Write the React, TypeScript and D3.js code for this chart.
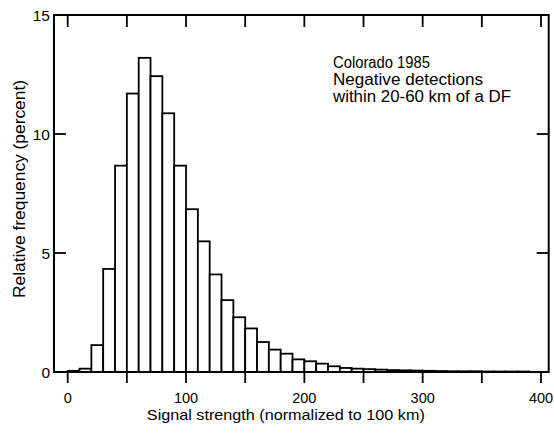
import React from "react";
import * as d3 from "d3";

const binStarts = [0,10,20,30,40,50,60,70,80,90,100,110,120,130,140,150,160,170,180,190,200,210,220,230,240,250,260,270,280,290,300,310,320,330,340,350,360,370,380];
const frequencies = [0.05,0.14,1.13,4.33,8.67,11.7,13.2,12.43,10.87,8.67,6.84,5.49,4.1,3.02,2.3,1.83,1.26,0.94,0.77,0.53,0.45,0.35,0.24,0.17,0.14,0.12,0.1,0.08,0.07,0.06,0.05,0.04,0.03,0.03,0.03,0.02,0.02,0.02,0.02];
const binWidth = 10;
const xTicks = [0,50,100,150,200,250,300,350,400];
const xTickLabels = [0,100,200,300,400];
const yTicks = [0,5,10,15];
const noteLines = ["Colorado 1985", "Negative detections", "within 20-60 km of a DF"];
const noteWidths = [97, 150, 178];
const xTitle = "Signal strength (normalized to 100 km)";
const yTitle = "Relative frequency (percent)";

const W = 554, H = 434;
const FONT = "'Liberation Sans', Arial, Helvetica, sans-serif";

export default function App() {
  const x = d3.scaleLinear().domain([0, 400]).range([67.7, 541]);
  const y = d3.scaleLinear().domain([0, 15]).range([372, 15]);
  const left = x(-11.6), right = x(406.5), top = y(15), bottom = y(0);
  const tickLen = 12;
  return (
    <svg width={W} height={H} style={{ position: "absolute", left: 0, top: 0, background: "#fff" }}>
      <rect x={0} y={0} width={W} height={H} fill="#fff" />
      {binStarts.map((b, i) => (
        <rect key={b} x={x(b)} y={y(frequencies[i])} width={x(b + binWidth) - x(b)} height={y(0) - y(frequencies[i])}
          fill="#fff" stroke="#000" strokeWidth={1.8} />
      ))}
      <rect x={left} y={top} width={right - left} height={bottom - top} fill="none" stroke="#000" strokeWidth={2} />
      {xTicks.map(t => (
        <g key={t}>
          <line x1={x(t)} x2={x(t)} y1={bottom} y2={bottom + tickLen - 1} stroke="#000" strokeWidth={1.8} />
          <line x1={x(t)} x2={x(t)} y1={top} y2={top + tickLen} stroke="#000" strokeWidth={1.8} />
        </g>
      ))}
      {yTicks.map(t => (
        <g key={t}>
          <line x1={left} x2={left + tickLen} y1={y(t)} y2={y(t)} stroke="#000" strokeWidth={1.8} />
          <line x1={right} x2={right - tickLen} y1={y(t)} y2={y(t)} stroke="#000" strokeWidth={1.8} />
          <text x={50} y={y(t) + 5.5} textAnchor="end" fontFamily={FONT} fontSize={15.5}>{t}</text>
        </g>
      ))}
      {xTickLabels.map(t => (
        <text key={t} x={x(t)} y={403} textAnchor="middle" fontFamily={FONT} fontSize={14.5}>{t}</text>
      ))}
      <text x={(146.7 + 425) / 2} y={420} textAnchor="middle" fontFamily={FONT} fontSize={15} textLength={278} lengthAdjust="spacingAndGlyphs">{xTitle}</text>
      <text transform={`translate(24.5, 189) rotate(-90)`} textAnchor="middle" fontFamily={FONT} fontSize={16} textLength={218} lengthAdjust="spacingAndGlyphs">{yTitle}</text>
      {noteLines.map((l, i) => (
        <text key={l} x={333} y={68 + i * 17} fontFamily={FONT} fontSize={16} textLength={noteWidths[i]} lengthAdjust="spacingAndGlyphs">{l}</text>
      ))}
    </svg>
  );
}
